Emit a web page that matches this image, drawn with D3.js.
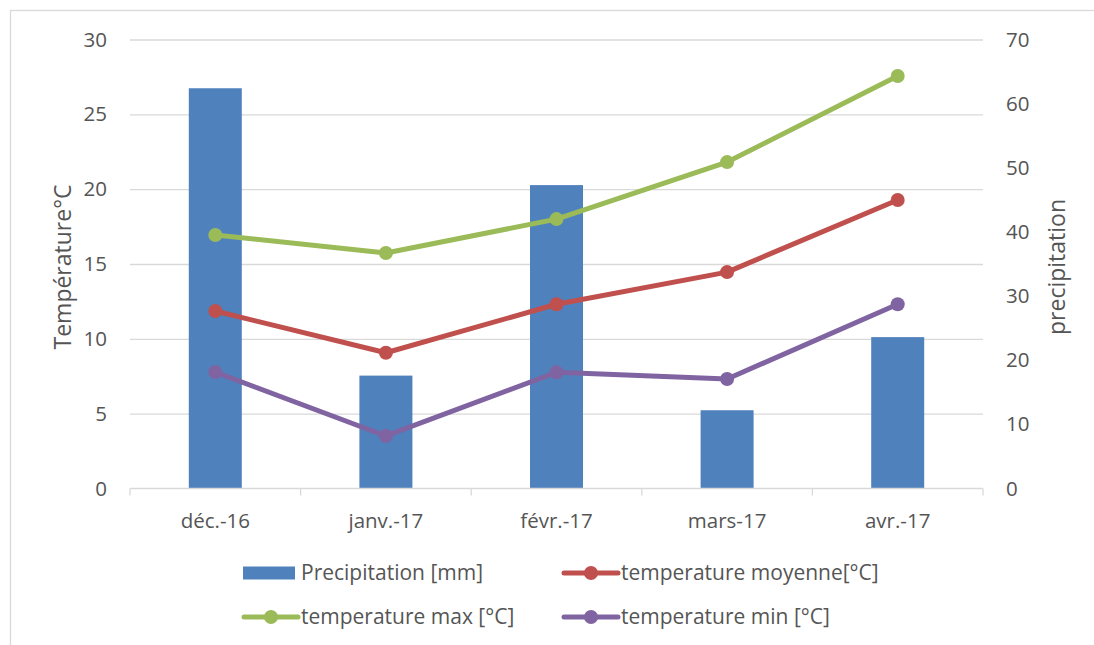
<!DOCTYPE html>
<html>
<head>
<meta charset="utf-8">
<script src="https://cdn.jsdelivr.net/npm/d3@7"></script>
<style>
  html, body { margin: 0; padding: 0; background: #fff; }
  svg { display: block; }
  text { font-family: "Open Sans", "Noto Sans", sans-serif; fill: #555555; }
</style>
</head>
<body>
<svg id="chart" width="1094" height="645"></svg>
<script>
// Monthly climate data, Dec 2016 – Apr 2017
const months = ["déc.-16", "janv.-17", "févr.-17", "mars-17", "avr.-17"];
const precipitation = [62.4, 17.6, 47.3, 12.2, 23.6];   // mm, right axis
const tempMoyenne   = [11.86, 9.07, 12.31, 14.46, 19.28]; // °C, left axis
const tempMax       = [16.94, 15.73, 18.0, 21.81, 27.56];
const tempMin       = [7.78, 3.51, 7.76, 7.32, 12.31];
const leftTicks  = [0, 5, 10, 15, 20, 25, 30];
const rightTicks = [0, 10, 20, 30, 40, 50, 60, 70];

const series = [
  { name: "temperature moyenne[°C]", values: tempMoyenne, color: "#C0504D" },
  { name: "temperature max [°C]",    values: tempMax,     color: "#9BBB59" },
  { name: "temperature min [°C]",    values: tempMin,     color: "#8064A2" }
];

const svg = d3.select("#chart");
const W = 1094, H = 645;
const plot = { left: 130, right: 983, top: 39.5, bottom: 488.5 };
const tickFont = "20.5px";
const legendFont = "21px";
const titleFont = "23px";
const lineW = 5, markerR = 7;

// outer chart frame (extends past the right and bottom edges)
svg.append("rect")
  .attr("x", 10.5).attr("y", 10.5)
  .attr("width", W + 20).attr("height", H + 20)
  .attr("fill", "none").attr("stroke", "#D9D9D9").attr("stroke-width", 1.3);

const x = d3.scaleBand().domain(months).range([plot.left, plot.right]);
const yL = d3.scaleLinear().domain([0, 30]).range([plot.bottom, plot.top]);
const yR = d3.scaleLinear().domain([0, 70]).range([plot.bottom, plot.top]);

// horizontal gridlines
const grid = d3.axisLeft(yL).tickValues(leftTicks.slice(1))
  .tickSize(-(plot.right - plot.left)).tickFormat("");
svg.append("g").attr("transform", `translate(${plot.left},0)`).call(grid)
  .call(g => g.select(".domain").remove())
  .call(g => g.selectAll("line").attr("stroke", "#D9D9D9").attr("stroke-width", 1.3));

// left axis labels
svg.append("g").attr("transform", `translate(${plot.left},0)`)
  .call(d3.axisLeft(yL).tickValues(leftTicks).tickSize(0).tickPadding(23))
  .call(g => g.select(".domain").remove())
  .call(g => g.selectAll("text").style("font-size", tickFont).attr("fill", "#555555")
    .style("font-family", "'Open Sans', sans-serif"));

// right axis labels
svg.append("g").attr("transform", `translate(${plot.right},0)`)
  .call(d3.axisRight(yR).tickValues(rightTicks).tickSize(0).tickPadding(23))
  .call(g => g.select(".domain").remove())
  .call(g => g.selectAll("text").style("font-size", tickFont).attr("fill", "#555555")
    .style("font-family", "'Open Sans', sans-serif"));

// precipitation bars
const barW = 53;
svg.append("g").selectAll("rect").data(months).join("rect")
  .attr("x", d => x(d) + x.bandwidth() / 2 - barW / 2)
  .attr("width", barW)
  .attr("y", (d, i) => yR(precipitation[i]))
  .attr("height", (d, i) => plot.bottom - yR(precipitation[i]))
  .attr("fill", "#4F81BD");

// category axis with boundary ticks
const xAxisG = svg.append("g").attr("transform", `translate(0,${plot.bottom})`);
xAxisG.append("line").attr("x1", plot.left).attr("x2", plot.right)
  .attr("stroke", "#D9D9D9").attr("stroke-width", 1.3);
const bounds = months.map(m => x(m)).concat([plot.right]);
xAxisG.selectAll("line.tick").data(bounds).join("line").attr("class", "tick")
  .attr("x1", d => d).attr("x2", d => d).attr("y1", 0).attr("y2", 7)
  .attr("stroke", "#D9D9D9").attr("stroke-width", 1.3);
xAxisG.selectAll("text").data(months).join("text")
  .attr("x", d => x(d) + x.bandwidth() / 2).attr("y", 39)
  .attr("text-anchor", "middle").style("font-size", tickFont).text(d => d);

// temperature lines with markers
const line = d3.line()
  .x((d, i) => x(months[i]) + x.bandwidth() / 2)
  .y(d => yL(d));
series.forEach(s => {
  const g = svg.append("g");
  g.append("path").datum(s.values).attr("d", line)
    .attr("fill", "none").attr("stroke", s.color).attr("stroke-width", lineW)
    .attr("stroke-linejoin", "round").attr("stroke-linecap", "round");
  g.selectAll("circle").data(s.values).join("circle")
    .attr("cx", (d, i) => x(months[i]) + x.bandwidth() / 2)
    .attr("cy", d => yL(d)).attr("r", markerR).attr("fill", s.color);
});

// axis titles
svg.append("text")
  .attr("transform", `translate(71,${(plot.top + plot.bottom) / 2 + 3}) rotate(-90)`)
  .attr("text-anchor", "middle").style("font-size", titleFont).text("Température°C");
svg.append("text")
  .attr("transform", `translate(1065,${(plot.top + plot.bottom) / 2 + 3}) rotate(-90)`)
  .attr("text-anchor", "middle").style("font-size", titleFont).text("precipitation");

// legend
const legend = svg.append("g");
const legendItems = [
  { type: "bar",  name: "Precipitation [mm]", color: "#4F81BD", x: 243, y: 573 },
  { type: "line", name: series[0].name, color: series[0].color, x: 563, y: 573 },
  { type: "line", name: series[1].name, color: series[1].color, x: 243, y: 617 },
  { type: "line", name: series[2].name, color: series[2].color, x: 563, y: 617 }
];
legendItems.forEach(it => {
  const g = legend.append("g").attr("transform", `translate(${it.x},${it.y})`);
  if (it.type === "bar") {
    g.append("rect").attr("x", 0).attr("y", -6.5).attr("width", 52).attr("height", 13)
      .attr("fill", it.color);
  } else {
    g.append("line").attr("x1", 1).attr("x2", 55).attr("y1", 0).attr("y2", 0)
      .attr("stroke", it.color).attr("stroke-width", lineW).attr("stroke-linecap", "round");
    g.append("circle").attr("cx", 28).attr("cy", 0).attr("r", markerR).attr("fill", it.color);
  }
  g.append("text").attr("x", 58).attr("y", 0).attr("dy", "0.35em")
    .style("font-size", legendFont).text(it.name);
});
</script>
</body>
</html>
